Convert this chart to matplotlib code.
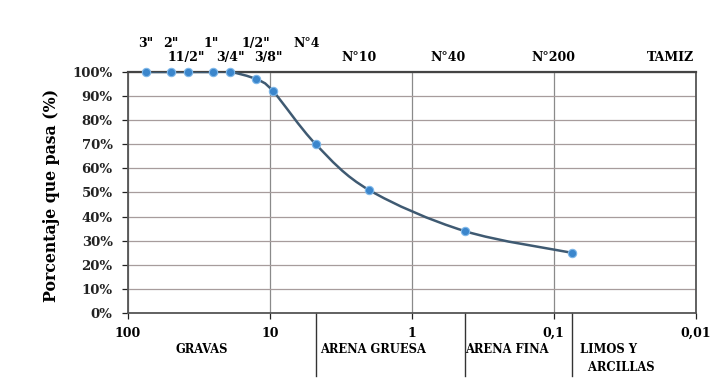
import numpy as np
import matplotlib
matplotlib.use("Agg")
import matplotlib.pyplot as plt
from matplotlib.path import Path
from matplotlib.patches import PathPatch
from matplotlib.ticker import FixedLocator, NullFormatter
from matplotlib.transforms import ScaledTranslation

# Sieve series (ASTM) and grading curve
sieve_names = ['3"', '2"', '11/2"', '1"', '3/4"', '1/2"', '3/8"',
               'N°4', 'N°10', 'N°40', 'N°200']
sieve_mm = [75.0, 50.0, 37.5, 25.0, 19.0, 12.5, 9.5, 4.75, 2.0, 0.425, 0.075]
passing_pct = [100, 100, 100, 100, 100, 97, 92, 70, 51, 34, 25]

x_ticks = [100, 10, 1, 0.1, 0.01]
x_tick_labels = ["100", "10", "1", "0,1", "0,01"]

soil_bounds = [4.75, 0.425, 0.075]
soil_names = ["GRAVAS", "ARENA GRUESA", "ARENA FINA", "LIMOS Y\n  ARCILLAS"]

# layout of the sieve labels above the plot: row (0 upper, 1 lower)
# and a small horizontal nudge in pixels
label_tier = [0, 0, 1, 0, 1, 0, 1, 0, 1, 1, 1]
label_nudge = [0, 0, -2, -2, 0, 0, -5, -9, -10, -17, -18]

FONT = ["DejaVu Serif"]
plt.rcParams["font.family"] = FONT
plt.rcParams["font.weight"] = "bold"

fig = plt.figure(figsize=(7.27, 3.91), dpi=100)
ax = fig.add_axes([0.176, 0.1995, 0.781, 0.6165])

ax.set_xscale("log")
ax.set_xlim(100, 0.01)
ax.set_ylim(0, 100)

# grid
ax.xaxis.set_major_locator(FixedLocator(x_ticks))
ax.xaxis.set_minor_locator(FixedLocator([]))
ax.xaxis.set_major_formatter(NullFormatter())
ax.set_yticks(np.arange(0, 101, 10))
ax.set_yticklabels([f"{v}%" for v in range(0, 101, 10)], fontsize=9.5,
                   fontweight="bold")
ax.grid(True, which="major", axis="y", color="#a79c9c", linewidth=0.9)
ax.grid(True, which="major", axis="x", color="#8a8a8a", linewidth=0.9)
ax.tick_params(axis="y", direction="out", length=4, width=0.9, pad=7,
               colors="#222222")
ax.tick_params(axis="x", direction="out", length=4, width=0.9,
               colors="#222222")
for s in ax.spines.values():
    s.set_color("#555555")
    s.set_linewidth(1.3)
ax.spines["top"].set_color("#444444")
ax.spines["top"].set_linewidth(1.6)

for v, t in zip(x_ticks, x_tick_labels):
    ax.text(v, -8.5, t, ha="center", va="center", fontsize=9,
            fontweight="bold", clip_on=False)

fig.text(52 / 727, 0.5, "Porcentaje que pasa (%)", rotation=90,
         ha="center", va="center", fontsize=11.3, fontweight="bold")

# smoothed grading curve (Catmull-Rom style Bezier in log-x space)
lx = np.log10(sieve_mm)
py = np.array(passing_pct, dtype=float)
n = len(lx)
verts = [(sieve_mm[0], py[0])]
codes = [Path.MOVETO]
for i in range(n - 1):
    p0 = (lx[i - 1], py[i - 1]) if i > 0 else (lx[i], py[i])
    p1 = (lx[i], py[i])
    p2 = (lx[i + 1], py[i + 1])
    p3 = (lx[i + 2], py[i + 2]) if i + 2 < n else (lx[i + 1], py[i + 1])
    c1 = (p1[0] + (p2[0] - p0[0]) / 6, p1[1] + (p2[1] - p0[1]) / 6)
    c2 = (p2[0] - (p3[0] - p1[0]) / 6, p2[1] - (p3[1] - p1[1]) / 6)
    for c in (c1, c2, p2):
        verts.append((10 ** c[0], c[1]))
        codes.append(Path.CURVE4)
curve = PathPatch(Path(verts, codes), facecolor="none", edgecolor="#3f5a72",
                  linewidth=1.8, zorder=3)
ax.add_patch(curve)
ax.plot(sieve_mm, passing_pct, linestyle="none", marker="o", markersize=6,
        color="#3b86cc", markeredgecolor="#7fb8ea", markeredgewidth=0.8,
        zorder=4, clip_on=False)

# sieve labels above the plot
xt = ax.get_xaxis_transform()
for name, d, tier, dx in zip(sieve_names, sieve_mm, label_tier, label_nudge):
    tr = xt + ScaledTranslation(dx / 100, 0, fig.dpi_scale_trans)
    ax.text(d, 1.116 if tier == 0 else 1.058, name, ha="center",
            va="center", fontsize=9, fontweight="bold", transform=tr)
ax.text(0.0103, 1.058, "TAMIZ", ha="right", va="center", fontsize=9,
        fontweight="bold", transform=xt)

# soil class divisions below the axis
for b in soil_bounds:
    ax.plot([b, b], [0, -0.26], color="#333333", linewidth=1.0,
            transform=xt, clip_on=False)
soil_x = [30.0, 4.4, 0.42, 0.065]
soil_ha = ["center", "left", "left", "left"]
for name, xv, ha in zip(soil_names, soil_x, soil_ha):
    ax.text(xv, -0.125, name, ha=ha, va="top", fontsize=8.3,
            fontweight="bold", linespacing=1.45, transform=xt)

fig.savefig("out.png", dpi=100, facecolor="white")
